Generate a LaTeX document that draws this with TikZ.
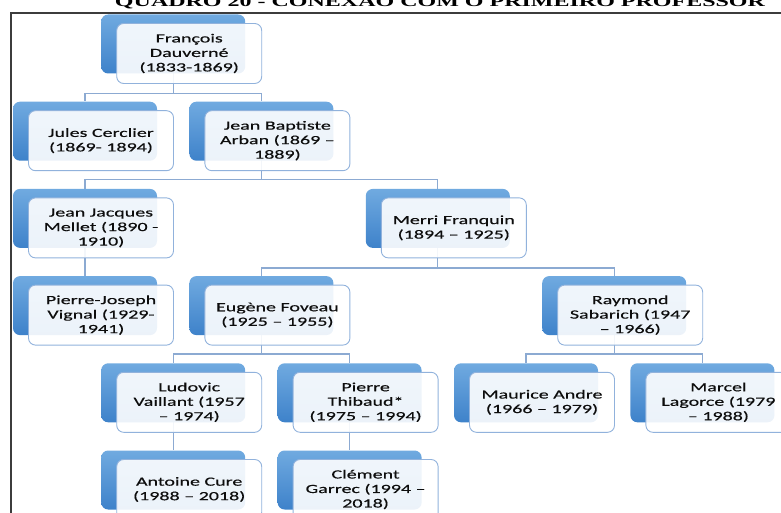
\documentclass[tikz,border=0pt]{standalone}
\usepackage{fontspec}
\setmainfont{Liberation Serif}
\newfontfamily\boxfont[FakeStretch=1.6,FakeBold=0.4]{Carlito}
\newfontfamily\titlefont[FakeStretch=1.6]{Liberation Serif}
\usetikzlibrary{backgrounds}

\definecolor{linkblue}{RGB}{140,170,210}
\definecolor{boxtop}{RGB}{112,170,224}
\definecolor{boxbottom}{RGB}{62,130,202}
\definecolor{boxedge}{RGB}{145,178,220}
\definecolor{framegray}{RGB}{60,60,60}

% one teacher: blue card behind, light card with the name in front
\newcommand{\teacher}[3]{%
    \node[backbox] (#1) at (#2) {};
    \node[frontbox] (#1F) at ([shift={(16pt,-9.5pt)}]#1.center) {#3};
}

\begin{document}
\begin{tikzpicture}[x=1pt, y=-1pt,
        backbox/.style={rectangle, rounded corners=7pt, minimum width=144pt,
            minimum height=59pt, inner sep=0pt, top color=boxtop, bottom color=boxbottom},
        frontbox/.style={rectangle, rounded corners=7pt, minimum width=145pt,
            minimum height=60pt, draw=boxedge, line width=0.9pt, fill=white,
            fill opacity=0.9, text opacity=1, align=center, text=black!95,
            font=\boxfont\fontsize{12.5}{14.5}\selectfont},
        link/.style={draw=linkblue, line width=1.3pt},
        titletext/.style={font=\titlefont\bfseries\fontsize{15}{18}\selectfont, anchor=base, inner sep=0pt}]

        \useasboundingbox (0,0) rectangle (781,513);
        \clip (0,0) rectangle (781,513);

        % Title and frame
        \node[titletext] (title) at (440,7) {QUADRO 20 - CONEXÃO COM O PRIMEIRO PROFESSOR};
        \draw[framegray, line width=1.2pt] (11,13) rectangle (795,530);

        % Defining the teachers
        \teacher{dauverne}{173.2,44}{François\\Dauverné\\(1833-1869)}

        \teacher{cerclier}{85,131.2}{Jules Cerclier\\(1869- 1894)}
        \teacher{arban}{261.4,131.2}{Jean Baptiste\\Arban (1869 –\\1889)}

        \teacher{mellet}{85,218.4}{Jean Jacques\\Mellet (1890 -\\1910)}
        \teacher{franquin}{437.8,218.4}{Merri Franquin\\(1894 – 1925)}

        \teacher{vignal}{85,305.6}{Pierre-Joseph\\Vignal (1929-\\1941)}
        \teacher{foveau}{261.4,305.6}{Eugène Foveau\\(1925 – 1955)}
        \teacher{sabarich}{614.2,305.6}{Raymond\\Sabarich (1947\\– 1966)}

        \teacher{vaillant}{173.2,392.8}{Ludovic\\Vaillant (1957\\– 1974)}
        \teacher{thibaud}{349.6,392.8}{Pierre\\Thibaud*\\(1975 – 1994)}
        \teacher{andre}{526,392.8}{Maurice Andre\\(1966 – 1979)}
        \teacher{lagorce}{702.4,392.8}{Marcel\\Lagorce (1979\\– 1988)}

        \teacher{cure}{173.2,480}{Antoine Cure\\(1988 – 2018)}
        \teacher{garrec}{349.6,480}{Clément\\Garrec (1994 –\\2018)}

        % Defining the links from master to student
        \begin{scope}[on background layer]
            \draw[link] (dauverne.center) |- ([yshift=8pt]cerclier.north) -- (cerclier.north);
            \draw[link] (dauverne.center) |- ([yshift=8pt]arban.north) -- (arban.north);
            \draw[link] (arban.center) |- ([yshift=9pt]mellet.north) -- (mellet.north);
            \draw[link] (arban.center) |- ([yshift=9pt]franquin.north) -- (franquin.north);
            \draw[link] (mellet.center) -- (vignal.north);
            \draw[link] (franquin.center) |- ([yshift=8pt]foveau.north) -- (foveau.north);
            \draw[link] (franquin.center) |- ([yshift=8pt]sabarich.north) -- (sabarich.north);
            \draw[link] (foveau.center) |- ([yshift=9pt]vaillant.north) -- (vaillant.north);
            \draw[link] (foveau.center) |- ([yshift=9pt]thibaud.north) -- (thibaud.north);
            \draw[link] (sabarich.center) |- ([yshift=9pt]andre.north) -- (andre.north);
            \draw[link] (sabarich.center) |- ([yshift=9pt]lagorce.north) -- (lagorce.north);
            \draw[link] (vaillant.center) -- (cure.north);
            \draw[link] (thibaud.center) -- (garrec.north);
        \end{scope}

    \end{tikzpicture}
\end{document}
